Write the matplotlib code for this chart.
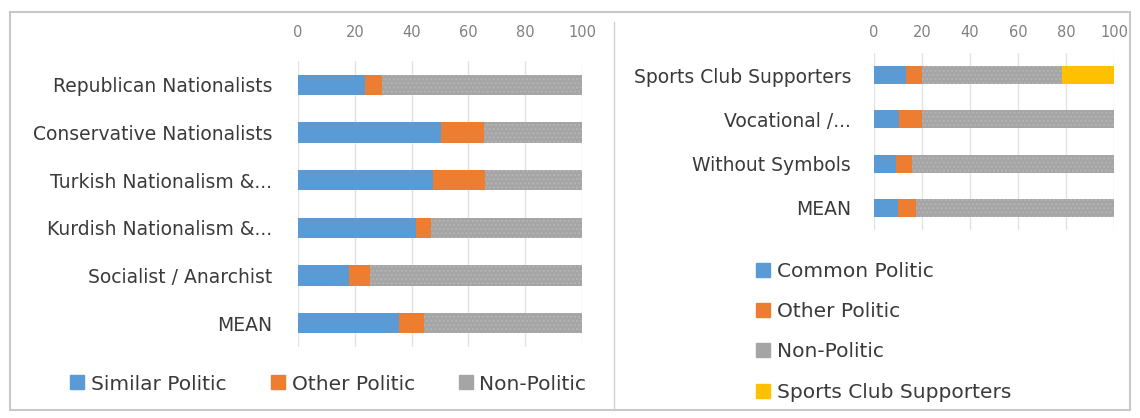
import matplotlib.pyplot as plt
from matplotlib.patches import Rectangle
from matplotlib.lines import Line2D

# Donnees - panneau gauche
left_cats = ['Republican Nationalists', 'Conservative Nationalists', 'Turkish Nationalism &...',
             'Kurdish Nationalism &...', 'Socialist / Anarchist', 'MEAN']
similar = [23.5, 50.5, 47.5, 41.5, 18, 35.5]
other_l = [6, 15, 18.5, 5.5, 7.5, 9]
nonpol_l = [70.5, 34.5, 34, 53, 74.5, 55.5]

# Donnees - panneau droit
right_cats = ['Sports Club Supporters', 'Vocational /...', 'Without Symbols', 'MEAN']
common = [13.5, 10.5, 9, 10]
other_r = [6.5, 9.5, 7, 7.5]
nonpol_r = [58.5, 80, 84, 82.5]
sports = [21.5, 0, 0, 0]

BLUE = '#5B9BD5'
ORANGE = '#ED7D31'
GREY = '#A5A5A5'
YELLOW = '#FFC000'
TXT = '#3A3A3A'

W, H = 1140, 418
fig = plt.figure(figsize=(W / 100, H / 100), dpi=100)


def px_axes(x0, y0, x1, y1):
    return fig.add_axes([x0 / W, 1 - y1 / H, (x1 - x0) / W, (y1 - y0) / H])


def style(ax, labels, xpad, ypad):
    ax.set_xlim(0, 100)
    ax.set_ylim(len(labels) - 0.5, -0.5)
    ax.set_yticks(range(len(labels)))
    ax.set_yticklabels(labels, fontsize=13.5, color=TXT)
    ax.set_xticks(range(0, 101, 20))
    ax.xaxis.tick_top()
    ax.tick_params(axis='x', length=0, labelsize=10.5, colors='#808080', pad=xpad)
    ax.tick_params(axis='y', length=0, pad=ypad)
    for s in ax.spines.values():
        s.set_visible(False)
    ax.grid(axis='x', color='#E3E3E3', lw=1)
    ax.set_axisbelow(True)


def stack(ax, series, colors, h):
    ypos = range(len(series[0]))
    left = [0] * len(series[0])
    for vals, c in zip(series, colors):
        hatch = '....' if c == GREY else None
        ax.barh(ypos, vals, left=left, height=h, color=c, lw=0,
                hatch=hatch, edgecolor='#B4B4B4' if c == GREY else c)
        left = [a + b for a, b in zip(left, vals)]


# Panneau gauche
axl = px_axes(298, 61, 582, 347)
style(axl, left_cats, 15, 18.5)
stack(axl, [similar, other_l, nonpol_l], [BLUE, ORANGE, GREY], 0.42)

# Panneau droit
axr = px_axes(874, 53, 1114, 230)
style(axr, right_cats, 9.5, 16.5)
stack(axr, [common, other_r, nonpol_r, sports], [BLUE, ORANGE, GREY, YELLOW], 0.41)


def sq(c):
    return Line2D([], [], marker='s', ls='', markersize=10, markerfacecolor=c, markeredgecolor=c)


fig.legend([sq(BLUE), sq(ORANGE), sq(GREY)], ['Similar Politic', 'Other Politic', 'Non-Politic'],
           loc='center', bbox_to_anchor=(328 / W, 1 - 384 / H), ncol=3, frameon=False,
           fontsize=14.5, labelcolor=TXT, handletextpad=0.32, columnspacing=2.15, handlelength=0.75)
fig.legend([sq(BLUE), sq(ORANGE), sq(GREY), sq(YELLOW)],
           ['Common Politic', 'Other Politic', 'Non-Politic', 'Sports Club Supporters'],
           loc='upper left', bbox_to_anchor=(737 / W, 1 - 244 / H), ncol=1, frameon=False,
           fontsize=14.5, labelcolor=TXT, handletextpad=0.32, labelspacing=1.05, handlelength=0.75)

# Cadre et separateur
fig.patches.append(Rectangle((10 / W, 8 / H), 1120 / W, 398 / H, transform=fig.transFigure,
                             fill=False, edgecolor='#C8C8C8', lw=1.5))
fig.lines.append(Line2D([614 / W, 614 / W], [8 / H, 1 - 22 / H], transform=fig.transFigure,
                        color='#D0D0D0', lw=1))

fig.savefig('out.png', dpi=100, facecolor='white')
